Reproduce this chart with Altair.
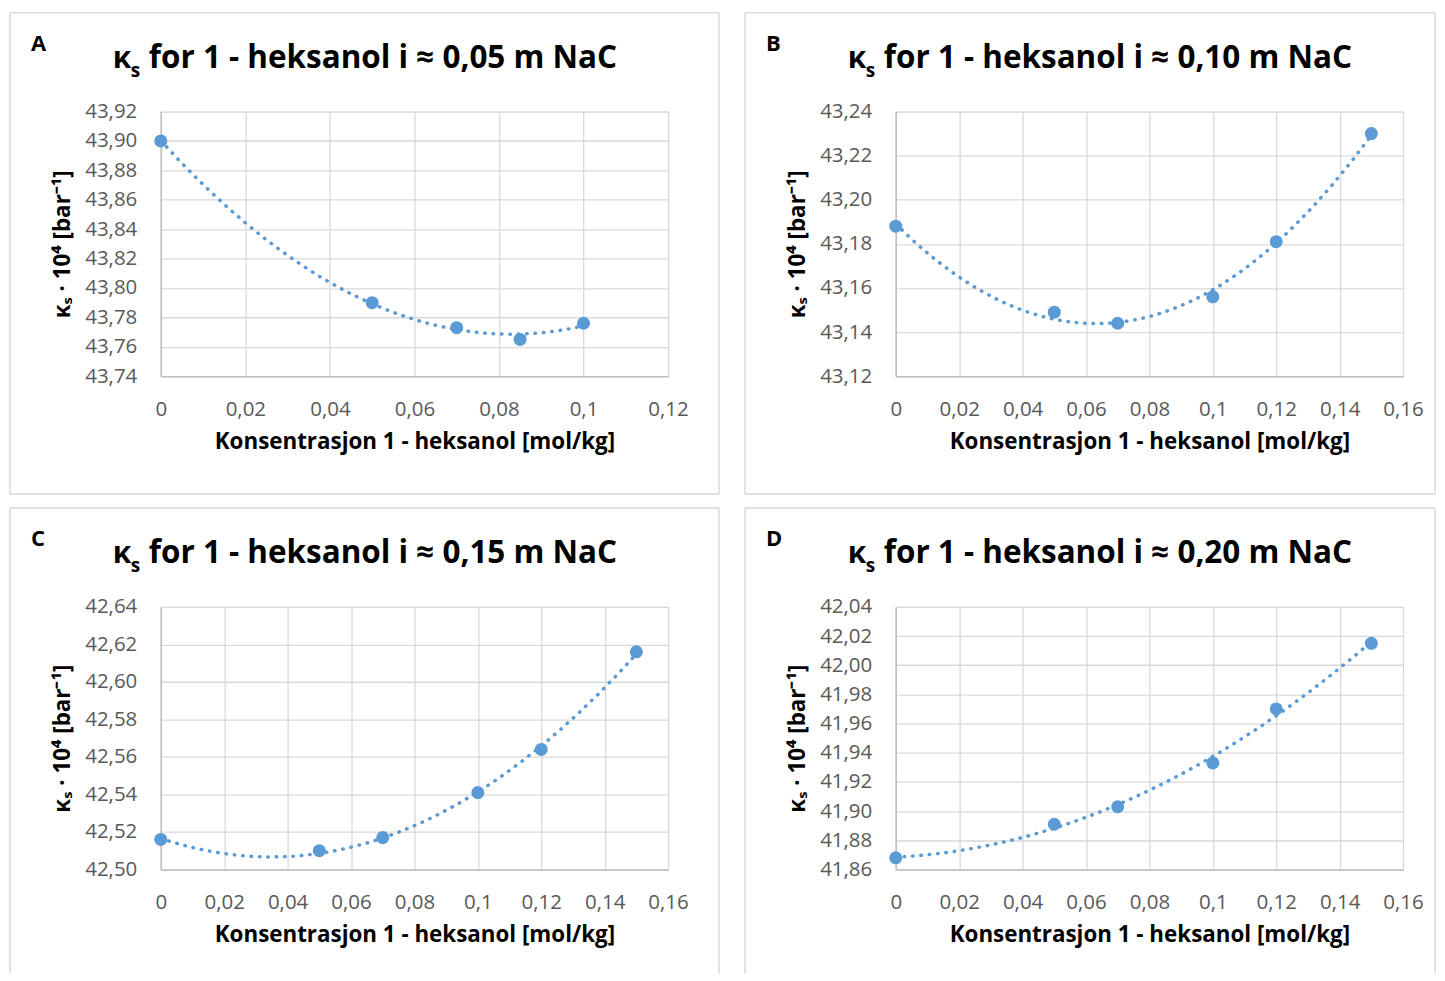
import altair as alt
import pandas as pd

# ---------------- data ----------------
a_x = [0, 0.05, 0.07, 0.085, 0.1]
a_y = [43.900, 43.790, 43.773, 43.765, 43.776]

b_x = [0, 0.05, 0.07, 0.1, 0.12, 0.15]
b_y = [43.188, 43.149, 43.144, 43.156, 43.181, 43.230]

c_x = [0, 0.05, 0.07, 0.1, 0.12, 0.15]
c_y = [42.516, 42.510, 42.517, 42.541, 42.564, 42.616]

d_x = [0, 0.05, 0.07, 0.1, 0.12, 0.15]
d_y = [41.868, 41.891, 41.903, 41.933, 41.970, 42.015]

letters = ["A", "B", "C", "D"]
concentrations = ["0,05", "0,10", "0,15", "0,20"]
y_domains = [[43.74, 43.92], [43.12, 43.24], [42.50, 42.64], [41.86, 42.04]]
x_maxes = [0.12, 0.16, 0.16, 0.16]
x_title = "Konsentrasjon 1 - heksanol [mol/kg]"
y_title = "κₛ · 10⁴ [bar⁻¹]"

# ---------------- style ----------------
FONT = "Open Sans"
BLUE = "#5b9bd5"
GRID = "#d9d9d9"
AXIS = "#bfbfbf"
LABEL = "#595959"
BOX = "#d9d9d9"
W = 508


def panel(i, xs, ys, H, box_right, box_h, bottom_line):
    df = pd.DataFrame({"x": xs, "y": ys})
    ydom = y_domains[i]
    n_y = int(round((ydom[1] - ydom[0]) / 0.02))
    yticks = [round(ydom[0] + 0.02 * k, 2) for k in range(n_y + 1)]
    n_x = int(round(x_maxes[i] / 0.02))
    xticks = [round(0.02 * k, 2) for k in range(n_x + 1)]

    xenc = alt.X(
        "x:Q",
        scale=alt.Scale(domain=[0, x_maxes[i]], nice=False, zero=False),
        axis=alt.Axis(
            values=xticks,
            labelExpr="replace(format(datum.value, '~g'), '.', ',')",
            title=x_title,
            grid=True,
            gridColor=GRID,
            gridWidth=1.3,
            domainColor=AXIS,
            domainWidth=1.5,
            ticks=False,
            labelFlush=False,
            labelOverlap=False,
            labelFont=FONT,
            labelFontSize=20.5,
            labelColor=LABEL,
            labelPadding=23,
            titleFont=FONT,
            titleFontSize=22.4,
            titleFontWeight="bold",
            titleColor="#000000",
            titlePadding=11,
        ),
    )
    yenc = alt.Y(
        "y:Q",
        scale=alt.Scale(domain=ydom, nice=False, zero=False),
        axis=alt.Axis(
            values=yticks,
            labelExpr="replace(format(datum.value, '.2f'), '.', ',')",
            title=y_title,
            grid=True,
            gridColor=GRID,
            gridWidth=1.3,
            domainColor=AXIS,
            domainWidth=1.5,
            ticks=False,
            labelFlush=False,
            labelOverlap=False,
            labelFont=FONT,
            labelFontSize=20.5,
            labelColor=LABEL,
            labelPadding=24,
            titleFont=FONT,
            titleFontSize=22.4,
            titleFontWeight="bold",
            titleColor="#000000",
            titlePadding=10,
        ),
    )

    base = alt.Chart(df)
    trend = (
        base.transform_regression("x", "y", method="poly", order=2)
        .mark_line(color=BLUE, strokeWidth=3.5, strokeDash=[0.5, 7.9], strokeCap="round")
        .encode(x=xenc, y=yenc)
    )
    pts = base.mark_circle(size=170, color=BLUE, opacity=1).encode(x=xenc, y=yenc)

    one = alt.Data(values=[{"a": 1}])
    deco = alt.Chart(one)
    left, right, top = -151, box_right, -99
    bottom = top + box_h
    lines = [
        deco.mark_rule(color=BOX, strokeWidth=1.5).encode(
            x=alt.value(left), y=alt.value(top), y2=alt.value(bottom)),
        deco.mark_rule(color=BOX, strokeWidth=1.5).encode(
            x=alt.value(right), y=alt.value(top), y2=alt.value(bottom)),
        deco.mark_rule(color=BOX, strokeWidth=1.5).encode(
            x=alt.value(left), x2=alt.value(right), y=alt.value(top)),
    ]
    if bottom_line:
        lines.append(
            deco.mark_rule(color=BOX, strokeWidth=1.5).encode(
                x=alt.value(left), x2=alt.value(right), y=alt.value(bottom)))

    letter = deco.mark_text(
        text=letters[i], font=FONT, fontSize=22, fontWeight="bold",
        align="left", baseline="middle", color="#000000",
    ).encode(x=alt.value(-130), y=alt.value(-68))

    kappa = deco.mark_text(
        text="κ", font=FONT, fontSize=30, fontWeight="bold",
        align="left", baseline="alphabetic", color="#000000",
    ).encode(x=alt.value(-48), y=alt.value(-44))
    sub = deco.mark_text(
        text="s", font=FONT, fontSize=19, fontWeight="bold",
        align="left", baseline="alphabetic", color="#000000",
    ).encode(x=alt.value(-30), y=alt.value(-35))
    rest = deco.mark_text(
        text=f"for 1 - heksanol i ≈ {concentrations[i]} m NaC", font=FONT,
        fontSize=31.5, fontWeight="bold",
        align="left", baseline="alphabetic", color="#000000",
    ).encode(x=alt.value(-12), y=alt.value(-44))

    return alt.layer(*lines, trend, pts, letter, kappa, sub, rest).properties(
        width=W, height=H
    )


pA = panel(0, a_x, a_y, 265, 559, 482, True)
pB = panel(1, b_x, b_y, 265, 540, 482, True)
pC = panel(2, c_x, c_y, 263, 559, 466, False)
pD = panel(3, d_x, d_y, 263, 540, 466, False)

chart = (
    alt.vconcat(
        alt.hconcat(pA, pB, spacing=22),
        alt.hconcat(pC, pD, spacing=22),
        spacing=10,
    )
    .properties(padding={"left": 0, "top": 2, "right": 0, "bottom": 0})
    .configure_view(stroke=None)
    .configure(font=FONT)
)

chart.save("out.html", embed_options={"renderer": "svg", "actions": False})
